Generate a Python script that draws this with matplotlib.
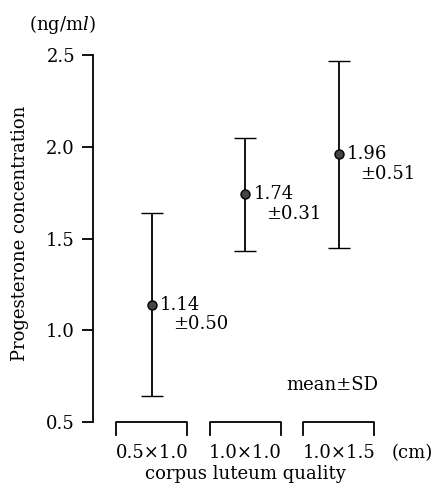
import matplotlib.pyplot as plt

# data
groups = ["0.5×1.0", "1.0×1.0", "1.0×1.5"]
means = [1.14, 1.74, 1.96]
sds = [0.50, 0.31, 0.51]
yticks = [0.5, 1.0, 1.5, 2.0, 2.5]

fs = 13
plt.rcParams['font.family'] = ['DejaVu Serif']
plt.rcParams['mathtext.fontset'] = 'dejavuserif'
plt.rcParams['font.size'] = fs

fig = plt.figure(figsize=(4.35, 4.92), dpi=100)
# axes: left spine at x=93px, y range 0.5 -> 2.5 spans y=422..55 px
ax = fig.add_axes([93 / 435, 70 / 492, 342 / 435, 367 / 492])
ax.set_xlim(0.37, 0.37 + 342 / 93.5)
ax.set_ylim(0.5, 2.5)

xs = [1, 2, 3]
ax.errorbar(xs, means, yerr=sds, fmt='o', color='black', ecolor='black',
            elinewidth=1.3, capsize=8, capthick=1.3,
            markersize=6.5, markerfacecolor='#444444', markeredgecolor='black',
            markeredgewidth=1.0, clip_on=False, zorder=3)

for x, m, s in zip(xs, means, sds):
    ax.annotate(f"{m:.2f}", (x, m), xytext=(6, 0), textcoords='offset points',
                ha='left', va='center', fontsize=fs)
    ax.annotate(f"±{s:.2f}", (x, m), xytext=(15, -14), textcoords='offset points',
                ha='left', va='center', fontsize=fs)

# brackets under each group
for x in xs:
    ax.plot([x - 0.38, x - 0.38, x + 0.38, x + 0.38], [0.43, 0.5, 0.5, 0.43],
            color='black', lw=1.3, clip_on=False)

for sp in ['top', 'right', 'bottom']:
    ax.spines[sp].set_visible(False)
ax.spines['left'].set_linewidth(1.3)
ax.set_xticks([])
ax.set_yticks(yticks)
ax.set_yticklabels([f"{v:.1f}" for v in yticks])
ax.tick_params(axis='y', direction='out', length=8, width=1.3, pad=5, labelsize=fs)

fig.text(20 / 435, 1 - 233 / 492, "Progesterone concentration", rotation=90,
         ha='center', va='center', fontsize=fs)
fig.text(62 / 435, 1 - 24 / 492, "(ng/m$\\mathit{l}$)", ha='center', va='center', fontsize=fs)

for x, g in zip(xs, groups):
    ax.annotate(g, (x, 0.5), xytext=(0, -22), textcoords='offset points',
                ha='center', va='center', fontsize=fs, annotation_clip=False)
fig.text(412 / 435, 1 - 453 / 492, "(cm)", ha='center', va='center', fontsize=fs)
fig.text(245 / 435, 1 - 474 / 492, "corpus luteum quality", ha='center', va='center', fontsize=fs)
fig.text(332 / 435, 1 - 385 / 492, "mean±SD", ha='center', va='center', fontsize=fs)

fig.savefig("out.png", dpi=100, facecolor='white')
